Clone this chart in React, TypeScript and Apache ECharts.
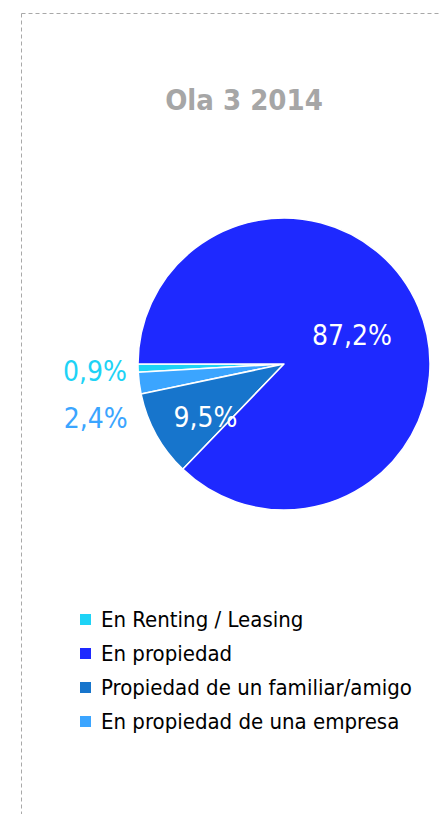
import React, { useEffect, useRef } from "react";
import * as echarts from "echarts";

const titleText = "Ola 3 2014";
const categories = [
  "En Renting / Leasing",
  "En propiedad de una empresa",
  "Propiedad de un familiar/amigo",
  "En propiedad",
];
const values = [0.9, 2.4, 9.5, 87.2];
const colors = ["#1ED3F6", "#3BA5FF", "#1775CC", "#1E29FF"];
const legendOrder = [
  "En Renting / Leasing",
  "En propiedad",
  "Propiedad de un familiar/amigo",
  "En propiedad de una empresa",
];

const FONT = "'Liberation Sans Narrow', 'Arial Narrow', 'DejaVu Sans Condensed', sans-serif";

export default function App() {
  const ref = useRef<HTMLDivElement>(null);
  useEffect(() => {
    if (!ref.current) return;
    const chart = echarts.init(ref.current, undefined, { renderer: "svg" });
    const labelCfg: any[] = [
      { color: "#1ED3F6", offset: [-113, 5] },
      { color: "#3BA5FF", offset: [-113, 45] },
      { color: "#FFFFFF", offset: [-12, 17] },
      { color: "#FFFFFF", offset: [-2, 1] },
    ];
    chart.setOption({
      animation: false,
      title: {
        text: titleText,
        left: 239,
        top: 80,
        textAlign: "center",
        textStyle: { fontFamily: FONT, fontSize: 29, fontWeight: "bold", color: "#A6A6A6" },
      },
      legend: {
        orient: "vertical",
        left: 73,
        top: 601,
        itemWidth: 13,
        itemHeight: 13,
        itemGap: 7,
        icon: "rect",
        data: legendOrder,
        textStyle: { fontFamily: FONT, fontSize: 22, color: "#000000", lineHeight: 27, padding: [0, 0, 0, 4] },
      },
      graphic: [
        { type: "line", shape: { x1: 21.5, y1: 13.5, x2: 441, y2: 13.5 }, style: { stroke: "#A8A8A8", lineWidth: 1, lineDash: [4, 3] } },
        { type: "line", shape: { x1: 21.5, y1: 13.5, x2: 21.5, y2: 814 }, style: { stroke: "#A8A8A8", lineWidth: 1, lineDash: [4, 3] } },
      ],
      series: [
        {
          type: "pie",
          center: [284, 364],
          radius: 146,
          startAngle: 180,
          clockwise: false,
          avoidLabelOverlap: false,
          itemStyle: { borderColor: "#FFFFFF", borderWidth: 1.5 },
          label: {
            show: true,
            position: "inside",
            fontFamily: FONT,
            fontSize: 28,
            formatter: (p: any) => String(p.value).replace(".", ",") + "%",
          },
          labelLine: { show: false },
          data: categories.map((c, i) => ({
            name: c,
            value: values[i],
            itemStyle: { color: colors[i] },
            label: labelCfg[i],
          })),
        },
      ],
    });
    return () => chart.dispose();
  }, []);
  return <div ref={ref} style={{ position: "absolute", left: 0, top: 0, width: 441, height: 814 }} />;
}
